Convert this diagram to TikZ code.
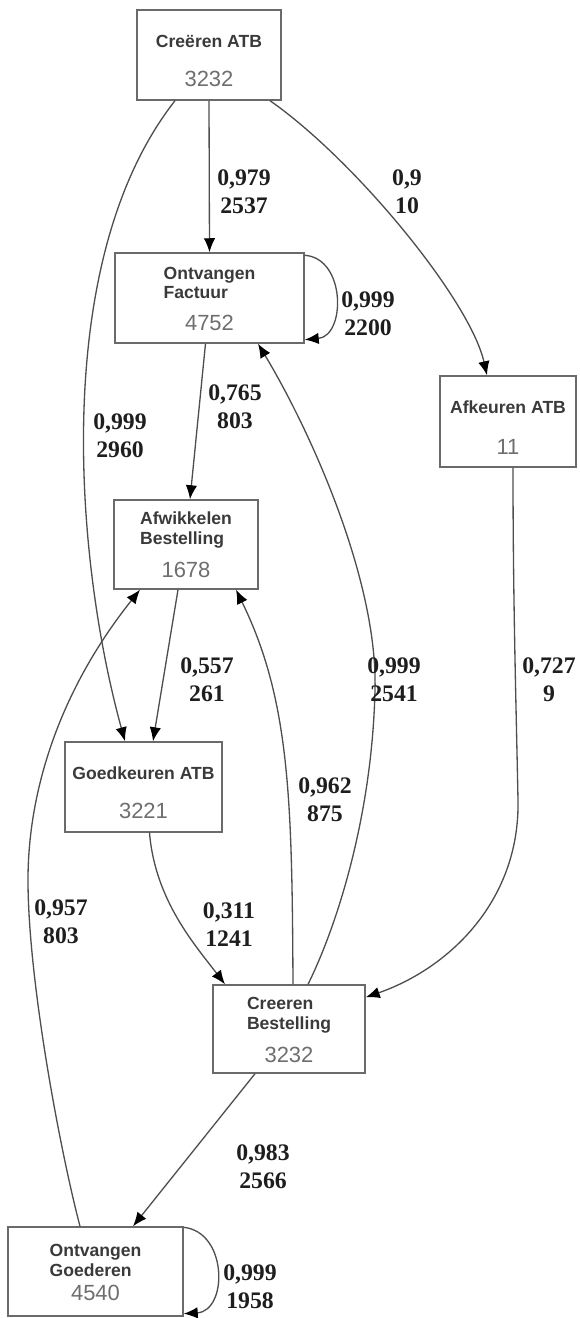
\documentclass[tikz,border=0pt]{standalone}
\usepackage{fontspec}
\setmainfont{Liberation Serif}
\newfontfamily\statefont{Liberation Sans}
\usetikzlibrary{arrows.meta,calc}

\definecolor{boxgray}{HTML}{6A6A6A}
\definecolor{titlegray}{HTML}{3A3A3A}
\definecolor{numgray}{HTML}{6E6E6E}
\definecolor{edgegray}{HTML}{4E4E4E}
\definecolor{labblack}{HTML}{1E1E1E}

\newcommand{\sttitle}[1]{{\statefont\bfseries\fontsize{10}{11.3}\selectfont\color{titlegray}\begin{tabular}[b]{@{}l@{}}#1\end{tabular}}}
\newcommand{\stcount}[1]{{\statefont\fontsize{12.5}{15}\selectfont\color{numgray}#1}}

\tikzset{
  state/.style={draw=boxgray, line width=0.8pt, rectangle, inner sep=0pt,
    align=center, font=\fontsize{12.5}{15}\selectfont},
  problab/.style={align=center, inner sep=0pt, text=labblack,
    font=\bfseries\fontsize{13.5}{16}\selectfont},
  arc/.style={draw=edgegray, line width=0.75pt,
    -{Latex[length=8pt,width=6.5pt,color=black]}}
}

\begin{document}
\begin{tikzpicture}[x=0.02cm,y=-0.02cm]
        \useasboundingbox (0,0) rectangle (580,1318);
        % Draw the states
        \node[state, minimum width=2.88cm, minimum height=1.8cm] (catb) at (209,55)
          {\sttitle{\rule{0pt}{14pt}Creëren ATB}\\[7pt]\stcount{3232}};
        \node[state, minimum width=3.78cm, minimum height=1.8cm] (ofac) at (209.5,298)
          {\sttitle{Ontvangen\\Factuur}\\[3pt]\stcount{4752}};
        \node[state, minimum width=2.72cm, minimum height=1.82cm] (aatb) at (508,421.5)
          {\sttitle{\rule{0pt}{14pt}Afkeuren ATB}\\[8.5pt]\stcount{11}};
        \node[state, minimum width=2.88cm, minimum height=1.78cm] (afw) at (186,544.5)
          {\sttitle{Afwikkelen\\Bestelling}\\[4pt]\stcount{1678}};
        \node[state, minimum width=3.14cm, minimum height=1.8cm] (gkatb) at (143.5,787)
          {\sttitle{\rule{0pt}{14pt}Goedkeuren ATB}\\[7pt]\stcount{3221}};
        \node[state, minimum width=3.04cm, minimum height=1.76cm] (cbest) at (289,1029)
          {\sttitle{Creeren\\Bestelling}\\[4pt]\stcount{3232}};
        \node[state, minimum width=3.5cm, minimum height=1.78cm] (ogoed) at (95.5,1271.5)
          {\sttitle{Ontvangen\\Goederen}\\[-1.5pt]\stcount{4540}};
        % Draw the edges
        \draw[arc] (catb.south) -- (ofac.north);
        \draw[arc] ($(catb.south)+(61,0)$) .. controls (355,160) and (470,300) .. ($(aatb.north)+(-21,0)$);
        \draw[arc] ($(catb.south)+(-34,0)$) .. controls (50,260) and (75,560) .. ($(gkatb.north)+(-18.5,0)$);
        \draw[arc] ($(ofac.north east)+(0,3)$) .. controls (346,258) and (346,336) .. ($(ofac.south east)+(0,-4)$);
        \draw[arc] ($(ofac.south)+(-4,0)$) -- ($(afw.north)+(4,0)$);
        \draw[arc] ($(afw.south)+(-8,0)$) -- ($(gkatb.north)+(9.5,0)$);
        \draw[arc] ($(gkatb.south)+(6,0)$) .. controls (155,900) and (195,945) .. ($(cbest.north)+(-64,0)$);
        \draw[arc] ($(cbest.north)+(4,0)$) .. controls (292,800) and (290,700) .. ($(afw.south)+(50,0)$);
        \draw[arc] ($(cbest.north)+(19,0)$) .. controls (335,930) and (372,820) .. (375,690)
          .. controls (378,580) and (310,430) .. ($(ofac.south)+(48.5,0)$);
        \draw[arc] ($(aatb.south)+(5,0)$) .. controls (513,600) and (516,700) .. (518,800)
          .. controls (520,900) and (450,968) .. ($(cbest.north east)+(0,13)$);
        \draw[arc] ($(cbest.south)+(-34,0)$) -- ($(ogoed.north)+(37.5,0)$);
        \draw[arc] ($(ogoed.north)+(-15.5,0)$) .. controls (60,1150) and (28,980) .. (28,880)
          .. controls (28,790) and (60,690) .. ($(afw.south)+(-46,0)$);
        \draw[arc] ($(ogoed.north east)+(0,1)$) .. controls (228,1232) and (228,1311) .. ($(ogoed.south east)+(0,-3)$);
        % Edge labels
        \node[problab] (pcf) at (244,191.5) {0,979\\2537};
        \node[problab] (pca) at (407,192) {0,9\\10};
        \node[problab] (pcg) at (120,436) {0,999\\2960};
        \node[problab] (pff) at (368,314) {0,999\\2200};
        \node[problab] (pfa) at (235,407) {0,765\\803};
        \node[problab] (pag) at (207,680) {0,557\\261};
        \node[problab] (pbf) at (394,680) {0,999\\2541};
        \node[problab] (pkb) at (549,680) {0,727\\9};
        \node[problab] (pba) at (325,800) {0,962\\875};
        \node[problab] (poa) at (61,922) {0,957\\803};
        \node[problab] (pgb) at (229,925) {0,311\\1241};
        \node[problab] (pbo) at (263,1167) {0,983\\2566};
        \node[problab] (poo) at (250,1287) {0,999\\1958};
    \end{tikzpicture}
\end{document}
